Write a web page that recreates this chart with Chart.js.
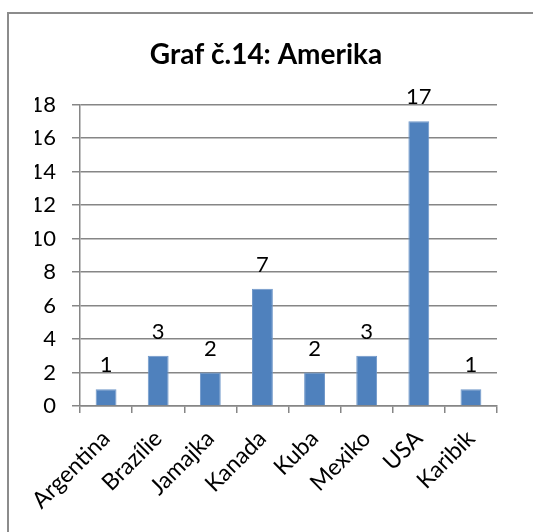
<!DOCTYPE html>
<html>
<head>
<meta charset="utf-8">
<script src="https://cdn.jsdelivr.net/npm/chart.js@4"></script>
<style>
  body { margin: 0; background: #fff; overflow: hidden; }
  #frame { position: absolute; left: 7px; top: 12px; width: 600px; height: 600px;
           border-left: 2px solid #8c8c8c; border-top: 2px solid #8c8c8c; }
  #wrap { position: absolute; left: 0; top: 0; width: 533px; height: 532px; }
</style>
</head>
<body>
<div id="frame"></div>
<div id="wrap"><canvas id="amerikaChart" width="533" height="532"></canvas></div>
<script>
var zeme = ["Argentina", "Brazílie", "Jamajka", "Kanada", "Kuba", "Mexiko", "USA", "Karibik"];
var pocty = [1, 3, 2, 7, 2, 3, 17, 1];
var osaY = [0, 2, 4, 6, 8, 10, 12, 14, 16, 18];

var pismo = "Lato, 'Open Sans', sans-serif";
var seda = "#868686";

// popisky hodnot nad sloupci
var popisky = {
  id: 'popisky',
  afterDatasetsDraw: function(chart) {
    var ctx = chart.ctx;
    var meta = chart.getDatasetMeta(0);
    ctx.save();
    ctx.font = "22px " + pismo;
    ctx.fillStyle = "#000";
    ctx.textAlign = "center";
    ctx.textBaseline = "alphabetic";
    meta.data.forEach(function(bar, i) {
      ctx.fillText(String(pocty[i]), bar.x, bar.y - 17);
    });
    ctx.restore();
  }
};

var amerikaChart = new Chart("amerikaChart", {
  type: 'bar',
  data: {
    labels: zeme,
    datasets: [{
      label: 'Amerika',
      data: pocty,
      backgroundColor: '#4F81BD',
      borderColor: '#6f97c9',
      borderWidth: 1,
      barPercentage: 0.4,
      categoryPercentage: 1
    }]
  },
  plugins: [popisky],
  options: {
    responsive: false,
    animation: false,
    layout: { padding: { left: 35, right: 36, top: 38, bottom: 0 } },
    plugins: {
      legend: { display: false },
      tooltip: { enabled: false },
      title: {
        display: true,
        text: 'Graf č.14: Amerika',
        color: '#000',
        font: { family: pismo, size: 28, weight: 'bold' },
        padding: { top: 0, bottom: 33 }
      }
    },
    scales: {
      x: {
        offset: true,
        grid: { offset: true, drawOnChartArea: false, drawTicks: true, tickLength: 7, color: seda, lineWidth: 1.5 },
        border: { color: seda, width: 1.5 },
        ticks: {
          color: '#000',
          font: { family: pismo, size: 23 },
          maxRotation: 45,
          minRotation: 45,
          padding: 12
        },
        afterFit: function(scale) { scale.height = 126; }
      },
      y: {
        min: 0,
        max: 18,
        afterBuildTicks: function(scale) {
          scale.ticks = osaY.map(function(v) { return { value: v }; });
        },
        grid: { color: seda, lineWidth: 1.5, tickLength: 8 },
        border: { color: seda, width: 1.5 },
        ticks: {
          color: '#000',
          font: { family: pismo, size: 22 },
          padding: 16
        },
        afterFit: function(scale) { scale.width = 45; }
      }
    }
  }
});
</script>
</body>
</html>
